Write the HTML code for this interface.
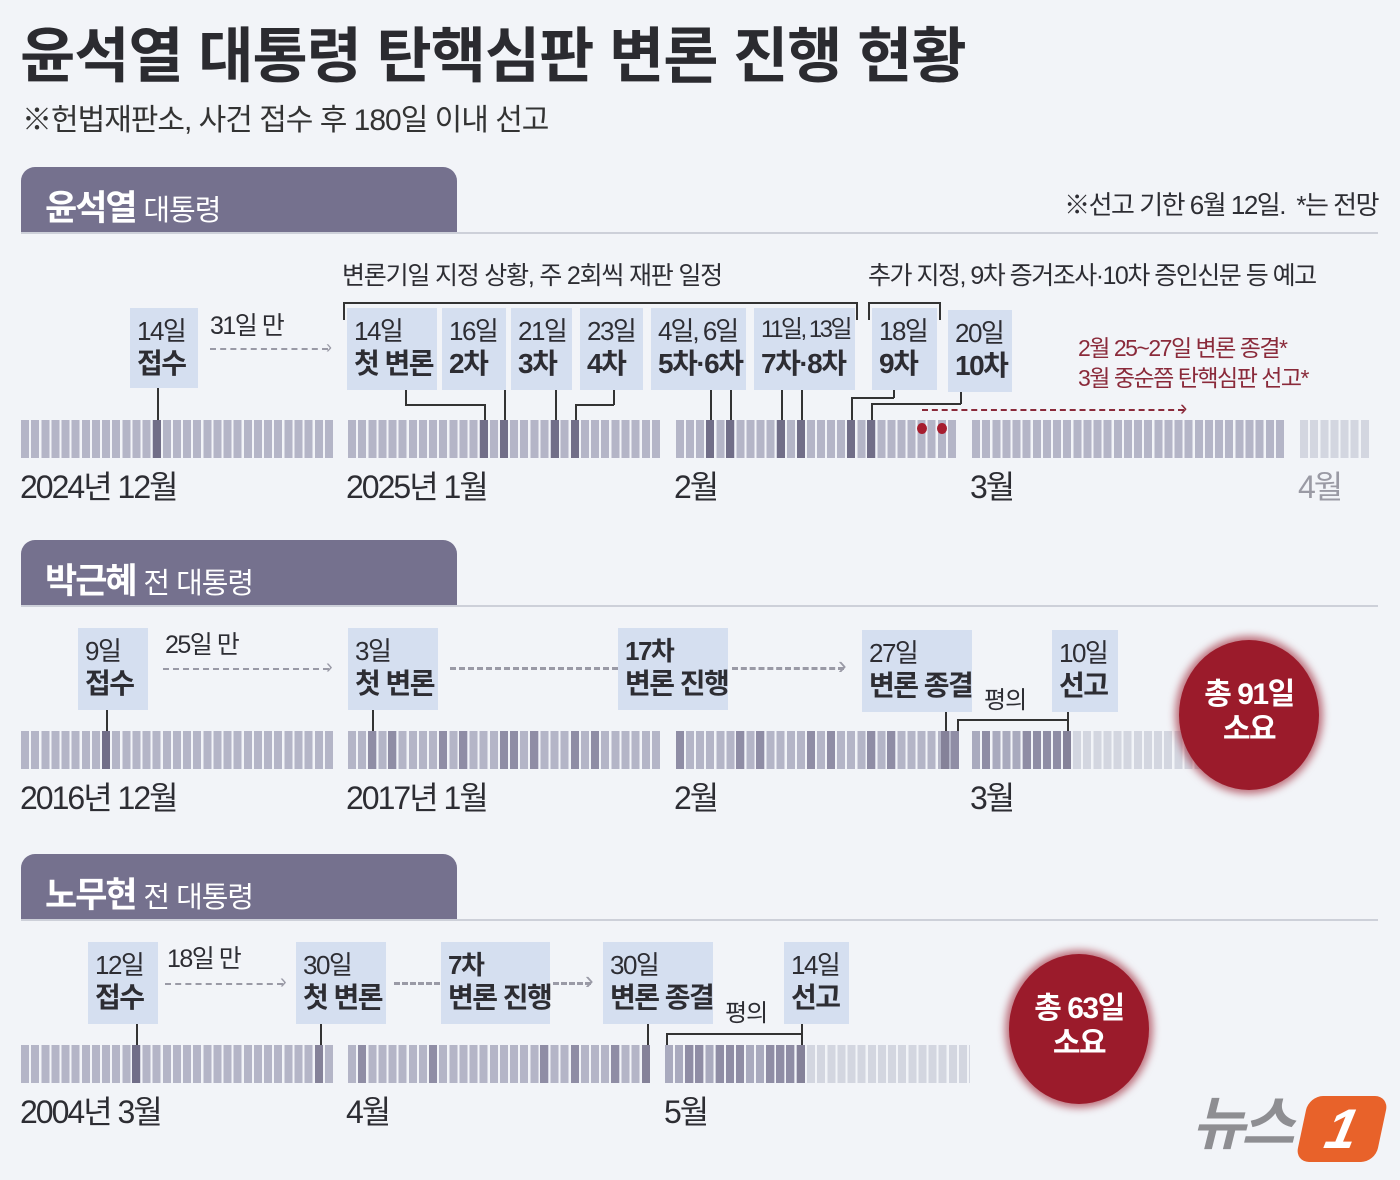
<!DOCTYPE html>
<html><head><meta charset="utf-8">
<style>
*{margin:0;padding:0;box-sizing:border-box}
body{width:1400px;height:1180px;background:#f2f4f8;position:relative;overflow:hidden;font-family:"Liberation Sans","Noto Sans CJK KR",sans-serif;color:#2d2d33}
.a{position:absolute;line-height:1;white-space:nowrap}
.tab{position:absolute;left:21px;width:436px;height:66px;background:#75718e;border-radius:14px 14px 0 0}
.tab span{position:absolute;left:24px;top:13px;color:#fff;font-size:35px;font-weight:bold;letter-spacing:-2px}
.tab span i{font-style:normal;font-weight:normal;font-size:29px;letter-spacing:-1px}
.hl{position:absolute;left:21px;width:1357px;height:2px;background:#cdd0d9}
.bx{position:absolute;background:#d5dff0}
.bx .t1{position:absolute;left:7px;top:10px;font-size:26px;letter-spacing:-1.5px;line-height:1;white-space:nowrap}
.bx .t2{position:absolute;left:7px;top:42px;font-size:28px;font-weight:bold;letter-spacing:-1.5px;line-height:1;white-space:nowrap}
.m{position:absolute;height:38px;background:repeating-linear-gradient(90deg,#b4b5c7 0 8px,transparent 8px 10.13px)}
.ml{background:repeating-linear-gradient(90deg,#d3d6e0 0 8px,transparent 8px 10.13px)}
.mm{background:repeating-linear-gradient(90deg,#a9aabe 0 8px,transparent 8px 10.13px)}
.d{position:absolute;width:8px;height:38px;background:#716e88}
.g{position:absolute;width:8px;height:38px;background:#8f8da5}
.vl{position:absolute;width:1.5px;background:#333}
.hz{position:absolute;height:1.5px;background:#333}
.lab{position:absolute;font-size:32px;letter-spacing:-2px;line-height:1;white-space:nowrap;color:#2d2d33}
.dash{position:absolute;height:0;border-top:2px dashed #9a9aa6}
.dash2{position:absolute;height:0;border-top:3px dashed #9a9aa6}
.circ{position:absolute;width:140px;height:150px;border-radius:50%;background:#9b1b2b;box-shadow:0 0 8px 4px rgba(155,27,43,.6);color:#fff;text-align:center;font-size:30px;font-weight:bold;letter-spacing:-1.5px;line-height:1.15;padding-top:38px}
</style></head><body>

<div class="a" style="left:20px;top:27px;font-size:60px;font-weight:bold;letter-spacing:-1px;color:#2b2b30">윤석열 대통령 탄핵심판 변론 진행 현황</div>
<div class="a" style="left:22px;top:106px;font-size:30px;letter-spacing:-1px;color:#333">※헌법재판소, 사건 접수 후 180일 이내 선고</div>

<!-- Section 1 -->
<div class="tab" style="top:167px"><span>윤석열 <i>대통령</i></span></div>
<div class="hl" style="top:232px"></div>
<div class="a" style="right:22px;top:192px;font-size:26px;letter-spacing:-1.5px">※선고 기한 6월 12일.&nbsp; *는 전망</div>

<div class="a" style="left:342px;top:264px;font-size:25px;letter-spacing:-1.2px">변론기일 지정 상황, 주 2회씩 재판 일정</div>
<div class="hz" style="left:343px;top:302px;width:514px"></div>
<div class="vl" style="left:343px;top:302px;height:18px"></div>
<div class="vl" style="left:856px;top:302px;height:18px"></div>
<div class="a" style="left:868px;top:264px;font-size:25px;letter-spacing:-1.5px">추가 지정, 9차 증거조사·10차 증인신문 등 예고</div>
<div class="hz" style="left:868px;top:302px;width:72px"></div>
<div class="vl" style="left:868px;top:302px;height:18px"></div>
<div class="vl" style="left:939px;top:302px;height:18px"></div>

<div class="bx" style="left:130px;top:308px;width:68px;height:80px"><div class="t1">14일</div><div class="t2">접수</div></div>
<div class="a" style="left:210px;top:314px;font-size:25px;letter-spacing:-1.5px">31일 만</div>
<div class="dash" style="left:210px;top:348px;width:118px"></div><div class="a" style="left:326px;top:338px;font-size:18px;color:#9a9aa6">›</div>

<div class="bx" style="left:347px;top:308px;width:90px;height:82px"><div class="t1">14일</div><div class="t2">첫 변론</div></div>
<div class="bx" style="left:442px;top:308px;width:64px;height:82px"><div class="t1">16일</div><div class="t2">2차</div></div>
<div class="bx" style="left:511px;top:308px;width:61px;height:82px"><div class="t1">21일</div><div class="t2">3차</div></div>
<div class="bx" style="left:580px;top:308px;width:63px;height:82px"><div class="t1">23일</div><div class="t2">4차</div></div>
<div class="bx" style="left:651px;top:308px;width:95px;height:82px"><div class="t1" style="letter-spacing:-2px">4일, 6일</div><div class="t2">5차·6차</div></div>
<div class="bx" style="left:754px;top:308px;width:101px;height:82px"><div class="t1" style="font-size:24px;letter-spacing:-2.5px">11일, 13일</div><div class="t2">7차·8차</div></div>
<div class="bx" style="left:872px;top:308px;width:65px;height:82px"><div class="t1">18일</div><div class="t2">9차</div></div>
<div class="bx" style="left:948px;top:310px;width:64px;height:82px"><div class="t1">20일</div><div class="t2">10차</div></div>

<div class="a" style="left:1078px;top:337px;font-size:23px;letter-spacing:-1.5px;color:#8a2a3a">2월 25~27일 변론 종결*</div>
<div class="a" style="left:1078px;top:367px;font-size:23px;letter-spacing:-1.5px;color:#8a2a3a">3월 중순쯤 탄핵심판 선고*</div>
<div class="a" style="left:922px;top:409px;width:262px;border-top:2px dashed #8a2a3a"></div>
<div class="a" style="left:1180px;top:397px;font-size:22px;color:#8a2a3a">›</div>

<!-- connectors s1 -->
<div class="vl" style="left:157px;top:388px;height:32px"></div>
<div class="vl" style="left:405px;top:390px;height:15px"></div><div class="hz" style="left:405px;top:404px;width:79px"></div><div class="vl" style="left:484px;top:404px;height:16px"></div>
<div class="vl" style="left:504px;top:390px;height:30px"></div>
<div class="vl" style="left:555px;top:390px;height:30px"></div>
<div class="vl" style="left:613px;top:390px;height:15px"></div><div class="hz" style="left:575px;top:404px;width:39px"></div><div class="vl" style="left:575px;top:404px;height:16px"></div>
<div class="vl" style="left:710px;top:390px;height:30px"></div>
<div class="vl" style="left:730px;top:390px;height:30px"></div>
<div class="vl" style="left:781px;top:390px;height:30px"></div>
<div class="vl" style="left:801px;top:390px;height:30px"></div>
<div class="vl" style="left:893px;top:390px;height:8px"></div><div class="hz" style="left:851px;top:397px;width:43px"></div><div class="vl" style="left:851px;top:397px;height:23px"></div>
<div class="vl" style="left:960px;top:392px;height:12px"></div><div class="hz" style="left:871px;top:403px;width:90px"></div><div class="vl" style="left:871px;top:403px;height:17px"></div>

<!-- bars s1 -->
<div class="m" style="left:21px;top:420px;width:314px"></div>
<div class="m" style="left:348px;top:420px;width:314px"></div>
<div class="m" style="left:676px;top:420px;width:282px;background:repeating-linear-gradient(90deg,#b4b5c7 0 8px,transparent 8px 10.07px)"></div>
<div class="m" style="left:972px;top:420px;width:314px"></div>
<div class="m ml" style="left:1300px;top:420px;width:70px"></div>
<div class="d" style="left:153px;top:420px"></div>
<div class="d" style="left:480px;top:420px"></div><div class="d" style="left:500px;top:420px"></div><div class="d" style="left:551px;top:420px"></div><div class="d" style="left:571px;top:420px"></div>
<div class="d" style="left:706px;top:420px"></div><div class="d" style="left:726px;top:420px"></div><div class="d" style="left:777px;top:420px"></div><div class="d" style="left:797px;top:420px"></div><div class="d" style="left:847px;top:420px"></div><div class="d" style="left:867px;top:420px"></div>
<div class="a" style="left:917px;top:423px;width:10px;height:11px;border-radius:50%;background:#a61e30"></div>
<div class="a" style="left:937px;top:423px;width:10px;height:11px;border-radius:50%;background:#a61e30"></div>

<div class="lab" style="left:20px;top:471px">2024년 12월</div>
<div class="lab" style="left:346px;top:471px">2025년 1월</div>
<div class="lab" style="left:674px;top:471px">2월</div>
<div class="lab" style="left:970px;top:471px">3월</div>
<div class="lab" style="left:1298px;top:471px;color:#9a9aa4">4월</div>

<!-- Section 2 -->
<div class="tab" style="top:540px"><span>박근혜 <i>전 대통령</i></span></div>
<div class="hl" style="top:605px"></div>

<div class="bx" style="left:78px;top:628px;width:70px;height:82px"><div class="t1">9일</div><div class="t2">접수</div></div>
<div class="a" style="left:165px;top:633px;font-size:25px;letter-spacing:-1.5px">25일 만</div>
<div class="dash" style="left:163px;top:668px;width:166px"></div><div class="a" style="left:326px;top:657px;font-size:20px;color:#9a9aa6">›</div>
<div class="bx" style="left:348px;top:628px;width:90px;height:82px"><div class="t1">3일</div><div class="t2">첫 변론</div></div>
<div class="dash2" style="left:450px;top:667px;width:168px"></div>
<div class="bx" style="left:618px;top:628px;width:110px;height:82px"><div class="t1" style="font-weight:bold">17차</div><div class="t2">변론 진행</div></div>
<div class="dash2" style="left:732px;top:667px;width:112px"></div><div class="a" style="left:838px;top:652px;font-size:26px;color:#9a9aa6">›</div>
<div class="bx" style="left:862px;top:630px;width:110px;height:82px"><div class="t1">27일</div><div class="t2">변론 종결</div></div>
<div class="bx" style="left:1052px;top:630px;width:66px;height:82px"><div class="t1">10일</div><div class="t2">선고</div></div>
<div class="a" style="left:984px;top:689px;font-size:24px;letter-spacing:-1px">평의</div>

<div class="vl" style="left:106px;top:710px;height:21px"></div>
<div class="vl" style="left:372px;top:710px;height:21px"></div>
<div class="vl" style="left:945px;top:712px;height:19px"></div>
<div class="hz" style="left:957px;top:719px;width:110px"></div><div class="vl" style="left:957px;top:719px;height:12px"></div><div class="vl" style="left:1067px;top:712px;height:19px"></div>

<div class="m" style="left:21px;top:731px;width:314px"></div>
<div class="m" style="left:348px;top:731px;width:314px"></div>
<div class="m" style="left:676px;top:731px;width:282px;background:repeating-linear-gradient(90deg,#b4b5c7 0 8px,transparent 8px 10.07px)"></div>
<div class="m mm" style="left:972px;top:731px;width:100px"></div>
<div class="m ml" style="left:1073px;top:731px;width:130px"></div>
<div class="d" style="left:102px;top:731px"></div>
<div class="g" style="left:368px;top:731px"></div>
<div class="g" style="left:388px;top:731px"></div><div class="g" style="left:439px;top:731px"></div><div class="g" style="left:459px;top:731px"></div><div class="g" style="left:500px;top:731px"></div><div class="g" style="left:510px;top:731px"></div><div class="g" style="left:530px;top:731px"></div><div class="g" style="left:571px;top:731px"></div><div class="g" style="left:591px;top:731px"></div>
<div class="g" style="left:676px;top:731px"></div><div class="g" style="left:736px;top:731px"></div><div class="g" style="left:756px;top:731px"></div><div class="g" style="left:807px;top:731px"></div><div class="g" style="left:827px;top:731px"></div><div class="g" style="left:867px;top:731px"></div><div class="g" style="left:887px;top:731px"></div><div class="d" style="left:941px;top:731px;background:#858299"></div><div class="g" style="left:951px;top:731px"></div>
<div class="g" style="left:982px;top:731px"></div><div class="g" style="left:1023px;top:731px"></div><div class="g" style="left:1033px;top:731px"></div><div class="g" style="left:1043px;top:731px"></div><div class="g" style="left:1053px;top:731px"></div><div class="d" style="left:1063px;top:731px;background:#858299"></div>

<div class="lab" style="left:20px;top:782px">2016년 12월</div>
<div class="lab" style="left:346px;top:782px">2017년 1월</div>
<div class="lab" style="left:674px;top:782px">2월</div>
<div class="lab" style="left:970px;top:782px">3월</div>

<div class="circ" style="left:1179px;top:640px">총 91일<br>소요</div>

<!-- Section 3 -->
<div class="tab" style="top:854px"><span>노무현 <i>전 대통령</i></span></div>
<div class="hl" style="top:919px"></div>

<div class="bx" style="left:88px;top:942px;width:70px;height:82px"><div class="t1">12일</div><div class="t2">접수</div></div>
<div class="a" style="left:167px;top:947px;font-size:25px;letter-spacing:-1.5px">18일 만</div>
<div class="dash" style="left:165px;top:983px;width:118px"></div><div class="a" style="left:280px;top:972px;font-size:20px;color:#9a9aa6">›</div>
<div class="bx" style="left:296px;top:942px;width:90px;height:82px"><div class="t1">30일</div><div class="t2">첫 변론</div></div>
<div class="dash2" style="left:394px;top:982px;width:46px"></div>
<div class="bx" style="left:441px;top:942px;width:109px;height:82px"><div class="t1" style="font-weight:bold">7차</div><div class="t2">변론 진행</div></div>
<div class="dash2" style="left:553px;top:982px;width:38px"></div><div class="a" style="left:585px;top:967px;font-size:26px;color:#9a9aa6">›</div>
<div class="bx" style="left:603px;top:942px;width:110px;height:82px"><div class="t1">30일</div><div class="t2">변론 종결</div></div>
<div class="bx" style="left:784px;top:942px;width:65px;height:82px"><div class="t1">14일</div><div class="t2">선고</div></div>
<div class="a" style="left:725px;top:1002px;font-size:24px;letter-spacing:-1px">평의</div>

<div class="vl" style="left:136px;top:1024px;height:21px"></div>
<div class="vl" style="left:320px;top:1024px;height:21px"></div>
<div class="vl" style="left:647px;top:1024px;height:21px"></div>
<div class="hz" style="left:666px;top:1033px;width:136px"></div><div class="vl" style="left:666px;top:1033px;height:12px"></div><div class="vl" style="left:801px;top:1024px;height:21px"></div>

<div class="m" style="left:21px;top:1045px;width:314px"></div>
<div class="m" style="left:348px;top:1045px;width:304px"></div>
<div class="m mm" style="left:665px;top:1045px;width:142px"></div>
<div class="m ml" style="left:807px;top:1045px;width:163px"></div>
<div class="d" style="left:132px;top:1045px"></div><div class="d" style="left:315px;top:1045px;background:#858299"></div>
<div class="g" style="left:358px;top:1045px"></div><div class="g" style="left:429px;top:1045px"></div><div class="g" style="left:540px;top:1045px"></div><div class="g" style="left:571px;top:1045px"></div><div class="g" style="left:611px;top:1045px"></div><div class="d" style="left:642px;top:1045px;background:#858299"></div>
<div class="g" style="left:685px;top:1045px"></div><div class="g" style="left:695px;top:1045px"></div><div class="g" style="left:716px;top:1045px"></div><div class="g" style="left:726px;top:1045px"></div><div class="g" style="left:736px;top:1045px"></div><div class="g" style="left:766px;top:1045px"></div><div class="g" style="left:776px;top:1045px"></div><div class="g" style="left:786px;top:1045px"></div><div class="d" style="left:797px;top:1045px;background:#858299"></div>

<div class="lab" style="left:20px;top:1096px">2004년 3월</div>
<div class="lab" style="left:346px;top:1096px">4월</div>
<div class="lab" style="left:664px;top:1096px">5월</div>

<div class="circ" style="left:1009px;top:954px">총 63일<br>소요</div>

<!-- logo -->
<div class="a" style="left:1192px;top:1096px;font-size:58px;font-weight:bold;font-style:italic;color:#8e8e92;letter-spacing:-4px">뉴스</div>
<div class="a" style="left:1302px;top:1096px;width:80px;height:66px;background:#e8622a;border-radius:14px;transform:skewX(-12deg);color:#fff;font-size:56px;font-weight:bold;font-style:italic;text-align:center;line-height:66px">1</div>

</body></html>
